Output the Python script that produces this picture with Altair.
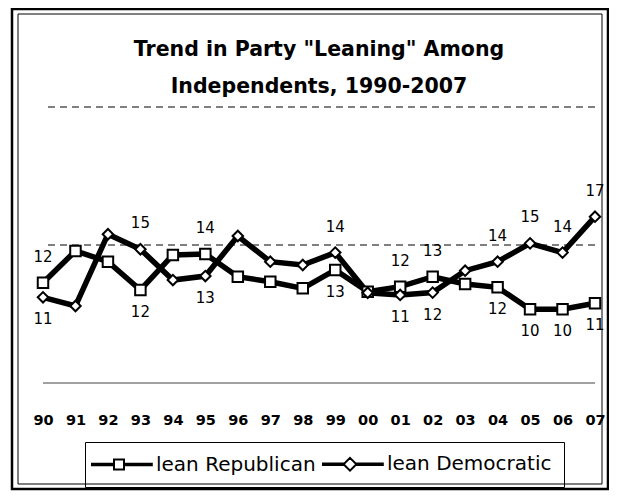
import altair as alt
import pandas as pd

# ---- data ----
years = ["90", "91", "92", "93", "94", "95", "96", "97", "98",
         "99", "00", "01", "02", "03", "04", "05", "06", "07"]
lean_rep = [12.27, 14.57, 13.79, 11.74, 14.28, 14.35, 12.70, 12.34, 11.86,
            13.19, 11.62, 11.98, 12.70, 12.17, 11.93, 10.34, 10.34, 10.78]
lean_dem = [11.21, 10.58, 15.78, 14.69, 12.46, 12.75, 15.65, 13.79, 13.55,
            14.45, 11.54, 11.38, 11.55, 13.14, 13.79, 15.12, 14.45, 17.05]
series = ["lean Republican", "lean Democratic"]

rep_labels_above = ["90", "95", "01", "02"]
rep_labels_below = ["93", "99", "04", "05", "06", "07"]
dem_labels_above = ["93", "99", "04", "05", "06", "07"]
dem_labels_below = ["90", "95", "01", "02"]

title_line1 = "Trend in Party \"Leaning\" Among"
title_line2 = "Independents, 1990-2007"
grid_dashed = [25, 15]
grid_solid = [5]
y_domain = [5, 25]

# ---- tables ----
rows = []
for name, vals in zip(series, [lean_rep, lean_dem]):
    for y, v in zip(years, vals):
        rows.append({"year": y, "series": name, "value": v})
df = pd.DataFrame(rows)

def pick(name, yrs):
    return df[(df["series"] == name) & (df["year"].isin(yrs))]

above = pd.concat([pick(series[0], rep_labels_above), pick(series[1], dem_labels_above)])
below = pd.concat([pick(series[0], rep_labels_below), pick(series[1], dem_labels_below)])

FONT = "DejaVu Sans"
W, H = 552, 276

x_enc = alt.X("year:N", sort=years,
              scale=alt.Scale(type="point", domain=years, padding=0),
              axis=alt.Axis(title=None, ticks=False, domain=False, grid=False,
                            labelAngle=0, labelPadding=30, labelFont=FONT,
                            labelFontSize=14.5, labelFontWeight="bold",
                            labelColor="black"))
y_scale = alt.Scale(domain=y_domain, nice=False, zero=False)
y_enc = alt.Y("value:Q", scale=y_scale, axis=None)

# legend symbols: line stubs with the marker in the middle
rep_path = ("M-1.875,-0.1H0.85V0.1H-1.875Z M2.15,-0.1H5.6V0.1H2.15Z "
            "M0.875,-0.625H2.125V0.625H0.875Z")
dem_path = ("M-1.875,-0.1H0.7V0.1H-1.875Z M2.3,-0.1H5.6V0.1H2.3Z "
            "M1.5,-0.8L2.3,0L1.5,0.8L0.7,0Z")

grid_d = alt.Chart(pd.DataFrame({"g": grid_dashed})).mark_rule(
    color="black", strokeWidth=1, strokeDash=[7, 5]
).encode(y=alt.Y("g:Q", scale=y_scale, axis=None))

grid_s = alt.Chart(pd.DataFrame({"g": grid_solid})).mark_rule(
    color="#444444", strokeWidth=1.2
).encode(y=alt.Y("g:Q", scale=y_scale, axis=None))

lines = alt.Chart(df).mark_line(color="black", strokeWidth=5.5).encode(
    x=x_enc, y=y_enc, detail="series:N"
)

points = alt.Chart(df).mark_point(
    filled=True, fill="white", stroke="black", strokeWidth=2, size=110, opacity=1
).encode(
    x=x_enc, y=y_enc,
    shape=alt.Shape("series:N",
                    scale=alt.Scale(domain=series, range=["square", "diamond"]),
                    legend=None),
)

legend_layer = alt.Chart(df).transform_filter("false").mark_point(
    filled=False, color="black", strokeWidth=2, opacity=1
).encode(
    x=x_enc, y=y_enc,
    shape=alt.Shape(
        "series:N",
        scale=alt.Scale(domain=series, range=[rep_path, dem_path]),
        legend=alt.Legend(
            title=None, orient="none", legendX=42, legendY=335,
            direction="horizontal", strokeColor="black", padding=12,
            labelFont=FONT, labelFontSize=20, labelColor="black", labelLimit=0,
            symbolSize=256, labelOffset=39, columnPadding=3,
            symbolStrokeWidth=2, symbolStrokeColor="black", symbolOpacity=1,
        ),
    ),
)

text_above = alt.Chart(above).mark_text(
    font=FONT, fontSize=15, color="black", dy=-26
).encode(x=x_enc, y=y_enc, text=alt.Text("value:Q", format=".0f"))

text_below = alt.Chart(below).mark_text(
    font=FONT, fontSize=15, color="black", dy=22
).encode(x=x_enc, y=y_enc, text=alt.Text("value:Q", format=".0f"))

title1 = alt.Chart(pd.DataFrame({"t": [title_line1]})).mark_text(
    font=FONT, fontSize=20.5, fontWeight="bold", color="black", baseline="alphabetic"
).encode(text="t:N", x=alt.value(W / 2), y=alt.value(-51))

title2 = alt.Chart(pd.DataFrame({"t": [title_line2]})).mark_text(
    font=FONT, fontSize=20.5, fontWeight="bold", color="black", baseline="alphabetic"
).encode(text="t:N", x=alt.value(W / 2), y=alt.value(-14))

frame_outer = alt.Chart(pd.DataFrame({"a": [0]})).mark_rect(
    fillOpacity=0, stroke="black", strokeWidth=2.5
).encode(x=alt.value(-31), x2=alt.value(565), y=alt.value(-98), y2=alt.value(382))

frame_inner = alt.Chart(pd.DataFrame({"a": [0]})).mark_rect(
    fillOpacity=0, stroke="black", strokeWidth=1
).encode(x=alt.value(-25), x2=alt.value(559), y=alt.value(-93), y2=alt.value(377))

chart = alt.layer(
    frame_outer, frame_inner, title1, title2, grid_d, grid_s, lines, points,
    legend_layer, text_above, text_below
).resolve_scale(shape="independent").properties(
    width=W, height=H,
    padding={"left": 35, "top": 99, "right": 14, "bottom": 110},
    autosize=alt.AutoSizeParams(type="none"),
).configure_view(stroke=None)

chart.save("out.html", embed_options={"renderer": "svg", "actions": False})
